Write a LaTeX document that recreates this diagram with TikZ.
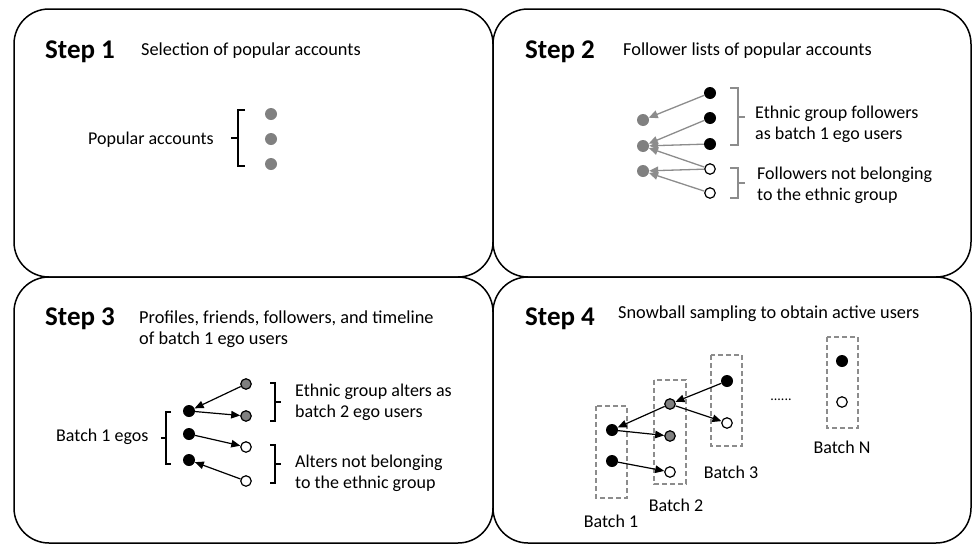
\documentclass[tikz,border=0pt]{standalone}
\usepackage{fontspec}
\setmainfont{Carlito}
\usetikzlibrary{arrows.meta}
\definecolor{dotgray}{HTML}{808080}
\definecolor{linegray}{HTML}{8C8C8C}
\definecolor{boxgray}{HTML}{8C8C8C}

\begin{document}
\begin{tikzpicture}[x=1pt,y=-1pt,
  panel/.style={draw=black, line width=1.5pt, rounded corners=35pt},
  steptitle/.style={anchor=base west, inner sep=0, font=\fontsize{27}{31}\selectfont\bfseries},
  txt/.style={anchor=base west, inner sep=0, font=\fontsize{18}{22}\selectfont},
  subtxt/.style={anchor=base west, inner sep=0, font=\fontsize{18.3}{22}\selectfont},
  btxt/.style={anchor=base, inner sep=0, font=\fontsize{18}{22}\selectfont},
  gdot/.style={circle, fill=dotgray, inner sep=0, minimum size=12pt},
  bdot/.style={circle, fill=black, inner sep=0, minimum size=12pt},
  odot/.style={circle, draw=black, fill=white, line width=1.2pt, inner sep=0, minimum size=10.5pt},
  gbdot/.style={circle, draw=black, fill=dotgray, line width=1.2pt, inner sep=0, minimum size=10.5pt},
  garrow/.style={draw=linegray, line width=1.3pt, -{Triangle[length=9pt,width=8pt]}},
  barrow/.style={draw=black, line width=1.2pt, -{Triangle[length=9pt,width=7.5pt]}},
  brk/.style={draw=black, line width=1.1pt},
  gbrk/.style={draw=linegray, line width=1.1pt},
  batchbox/.style={draw=boxgray, line width=1.2pt, dash pattern=on 5pt off 3pt}
]
\useasboundingbox (0,0) rectangle (972,544);

% four panels
\draw[panel] (14,9) rectangle (493,277);
\draw[panel] (493,9) rectangle (971,277);
\draw[panel] (14,277) rectangle (493,543);
\draw[panel] (493,277) rectangle (971,543);

% ---------------- Step 1 ----------------
\node[steptitle] (t1) at (45,58) {Step 1};
\node[subtxt] (s1) at (141,55) {Selection of popular accounts};
\node[txt] (pa) at (88,144) {Popular accounts};
\draw[brk] (245,110) -- (238,110) -- (238,166) -- (245,166);
\draw[brk] (231,138) -- (238,138);
\node[gdot] (p1) at (271,114) {};
\node[gdot] (p2) at (271,139) {};
\node[gdot] (p3) at (271,164) {};

% ---------------- Step 2 ----------------
\node[steptitle] (t2) at (525,58) {Step 2};
\node[subtxt] (s2) at (623,55) {Follower lists of popular accounts};
\node[gdot] (g1) at (643,120) {};
\node[gdot] (g2) at (643,146) {};
\node[gdot] (g3) at (643,171) {};
\node[bdot] (f1) at (710,93) {};
\node[bdot] (f2) at (710,118) {};
\node[bdot] (f3) at (710,144) {};
\node[odot] (f4) at (710,169) {};
\node[odot] (f5) at (710,193) {};
\draw[garrow] (f1) -- (g1);
\draw[garrow] (f2) -- (g2);
\draw[garrow] (f3) -- (g2);
\draw[garrow] (f4) -- (g2);
\draw[garrow] (f4) -- (g3);
\draw[garrow] (f5) -- (g3);
\draw[gbrk] (730,88) -- (738,88) -- (738,145) -- (730,145);
\draw[gbrk] (738,117) -- (745,117);
\draw[gbrk] (730,168) -- (738,168) -- (738,198) -- (730,198);
\draw[gbrk] (738,183) -- (745,183);
\node[txt] (e1) at (755,118) {Ethnic group followers};
\node[txt] (e2) at (755,139) {as batch 1 ego users};
\node[txt] (n1) at (757,179) {Followers not belonging};
\node[txt] (n2) at (757,200) {to the ethnic group};

% ---------------- Step 3 ----------------
\node[steptitle] (t3) at (45,325) {Step 3};
\node[subtxt] (s3a) at (139,323) {Profiles, friends, followers, and timeline};
\node[subtxt] (s3b) at (139,344) {of batch 1 ego users};
\node[txt] (b1e) at (56,441) {Batch 1 egos};
\draw[brk] (171,412) -- (166,412) -- (166,464) -- (171,464);
\draw[brk] (161,438) -- (166,438);
\node[bdot] (e31) at (189,411) {};
\node[bdot] (e32) at (189,434) {};
\node[bdot] (e33) at (189,460) {};
\node[gbdot] (a31) at (246,384) {};
\node[gbdot] (a32) at (246,416) {};
\node[odot] (a33) at (246,447) {};
\node[odot] (a34) at (246,481) {};
\draw[barrow] (a31) -- (e31);
\draw[barrow] (e31) -- (a32);
\draw[barrow] (e32) -- (a33);
\draw[barrow] (a34) -- (e33);
\draw[brk] (270,383) -- (275,383) -- (275,421) -- (270,421);
\draw[brk] (275,402) -- (281,402);
\draw[brk] (270,445) -- (275,445) -- (275,483) -- (270,483);
\draw[brk] (275,464) -- (281,464);
\node[txt] (x1) at (295,396) {Ethnic group alters as};
\node[txt] (x2) at (295,417) {batch 2 ego users};
\node[txt] (y1) at (295,467) {Alters not belonging};
\node[txt] (y2) at (295,488) {to the ethnic group};

% ---------------- Step 4 ----------------
\node[steptitle] (t4) at (525,325) {Step 4};
\node[subtxt] (s4) at (618,318) {Snowball sampling to obtain active users};
\draw[batchbox] (596,406) rectangle (627,498);
\draw[batchbox] (654,380) rectangle (686,484);
\draw[batchbox] (711,355) rectangle (742,446);
\draw[batchbox] (827,337) rectangle (858,428);
\node[bdot] (q11) at (612,430) {};
\node[bdot] (q12) at (612,461) {};
\node[gbdot] (q21) at (670,404) {};
\node[gbdot] (q22) at (670,436) {};
\node[odot] (q23) at (670,472) {};
\node[bdot] (q31) at (727,381) {};
\node[odot] (q32) at (727,423) {};
\node[bdot] (qn1) at (842,361) {};
\node[odot] (qn2) at (842,402) {};
\draw[barrow] (q31) -- (q21);
\draw[barrow] (q21) -- (q11);
\draw[barrow] (q21) -- (q32);
\draw[barrow] (q11) -- (q22);
\draw[barrow] (q12) -- (q23);
\node[anchor=base, inner sep=0, font=\fontsize{14}{16}\selectfont] (dd) at (781,400) {......};
\node[btxt] (l1) at (611,527) {Batch 1};
\node[btxt] (l2) at (676,511) {Batch 2};
\node[btxt] (l3) at (731,478) {Batch 3};
\node[btxt] (ln) at (842,453) {Batch N};
\end{tikzpicture}
\end{document}
